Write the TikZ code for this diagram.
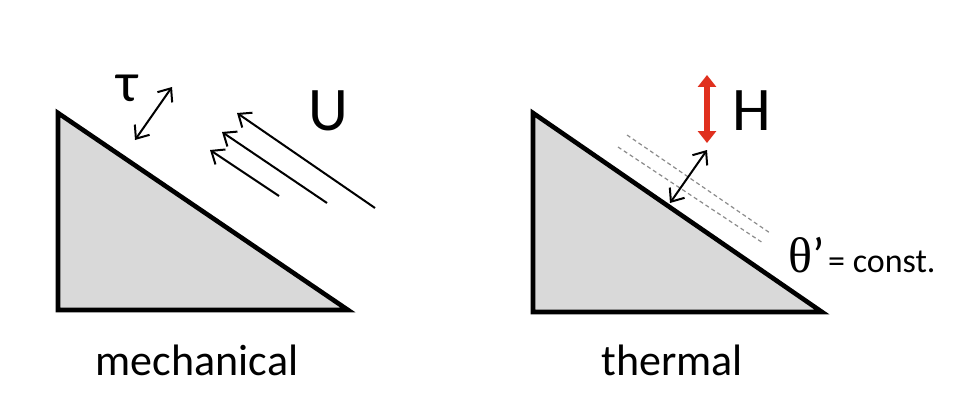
\documentclass[tikz,border=0pt]{standalone}
\usepackage{fontspec}
\setmainfont{Carlito}
\newfontfamily\thetafont{Liberation Serif}
\usetikzlibrary{arrows.meta, positioning}
\definecolor{wedgegray}{HTML}{D9D9D9}
\definecolor{fluxred}{HTML}{E0301E}
\definecolor{layergray}{HTML}{8C8C8C}
\tikzstyle{wedge} = [draw=black, fill=wedgegray, line width=2.3pt, line join=miter]
\tikzstyle{flow} = [line width=1pt, -{Straight Barb[length=5.5pt, width=9pt]}]
\tikzstyle{twoway} = [line width=1pt, {Straight Barb[length=5.5pt, width=9pt]}-{Straight Barb[length=5.5pt, width=9pt]}]
\tikzstyle{heatflux} = [line width=2.6pt, draw=fluxred, {Triangle[length=6pt, width=9pt]}-{Triangle[length=6pt, width=9pt]}]
\tikzstyle{layer} = [draw=layergray, line width=0.6pt, dash pattern=on 2pt off 1.5pt]
\tikzstyle{caption} = [inner sep=0pt, anchor=base, font=\fontsize{22}{26}\selectfont]
\tikzstyle{symbol} = [inner sep=0pt, anchor=base, font=\fontsize{31}{36}\selectfont]

\begin{document}
\begin{tikzpicture}[x=0.5pt, y=-0.5pt]
    \useasboundingbox[fill=white] (0,0) rectangle (979,401);

    % mechanical wedge
    \coordinate (mtop) at (58,113);
    \coordinate (mleft) at (58,310);
    \coordinate (mright) at (348,310);
    \draw[wedge] (mtop) -- (mleft) -- (mright) -- cycle;

    \coordinate (taulow) at (135,140);
    \coordinate (tauhigh) at (172,87);
    \draw[twoway] (taulow) -- (tauhigh);
    \node[symbol, font=\fontsize{28}{32}\selectfont] (tau) at (127,102) {τ};

    \coordinate (ua) at (375,208); \coordinate (ub) at (237,113);
    \coordinate (uc) at (327,203); \coordinate (ud) at (222,132);
    \coordinate (ue) at (279,196); \coordinate (uf) at (210,150);
    \draw[flow] (ua) -- (ub);
    \draw[flow] (uc) -- (ud);
    \draw[flow] (ue) -- (uf);
    \node[symbol] (U) at (328,130) {U};

    \node[caption] (mech) at (197,375) {mechanical};

    % thermal wedge
    \coordinate (ttop) at (533,113);
    \coordinate (tleft) at (533,312);
    \coordinate (tright) at (822,312);
    \draw[wedge] (ttop) -- (tleft) -- (tright) -- cycle;

    \coordinate (la) at (627,135); \coordinate (lb) at (770,233);
    \coordinate (lc) at (618,147); \coordinate (ld) at (763,243);
    \draw[layer] (la) -- (lb);
    \draw[layer] (lc) -- (ld);

    \coordinate (hlow) at (670,203);
    \coordinate (hhigh) at (707,150);
    \draw[twoway] (hlow) -- (hhigh);

    \coordinate (fluxtop) at (707,75);
    \coordinate (fluxbot) at (707,143);
    \draw[heatflux] (fluxtop) -- (fluxbot);
    \node[symbol] (H) at (752,130) {H};

    \node[inner sep=0pt, anchor=base west] (theta) at (788,272)
        {{\fontsize{25}{30}\selectfont\thetafont θ}{\fontsize{25}{30}\selectfont’}\,{\fontsize{17}{20}\selectfont= const.}};

    \node[caption] (therm) at (672,375) {thermal};
\end{tikzpicture}
\end{document}
